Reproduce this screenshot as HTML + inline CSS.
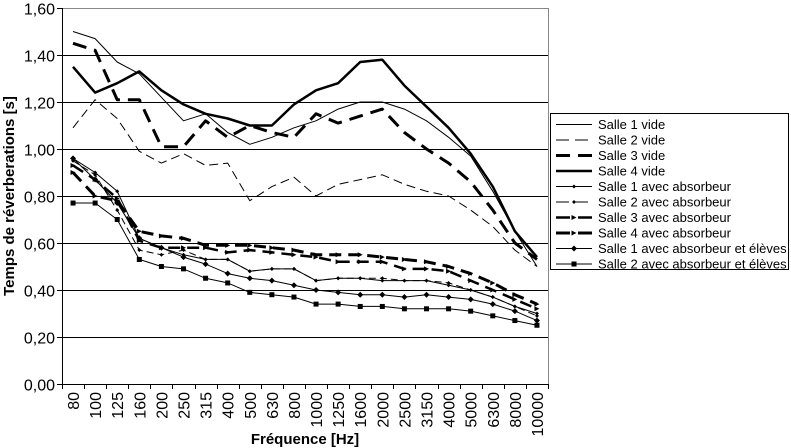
<!DOCTYPE html>
<html><head><meta charset="utf-8"><style>body{margin:0;background:#fff}svg{display:block}</style></head><body>
<svg id="s" width="791" height="448" xmlns="http://www.w3.org/2000/svg" font-family="Liberation Sans, sans-serif">
<rect width="791" height="448" fill="#fff"/>
<g id="grid" stroke="#000" stroke-width="1"></g>
<g id="ser" fill="none" stroke="#000" stroke-linejoin="round"></g>
<g id="lab" font-size="16" fill="#000"></g>
<text x="14" y="196" font-size="15" font-weight="bold" text-anchor="middle" transform="rotate(-90 14 196)">Temps de réverberations [s]</text>
<text x="305" y="444" font-size="15" font-weight="bold" text-anchor="middle">Fréquence [Hz]</text>
<rect x="550.5" y="113.5" width="238" height="156" fill="#fff" stroke="#000"/>
<g id="leg" font-size="13"></g>
</svg>
<script>
const NS="http://www.w3.org/2000/svg";
function el(p,t,a,txt){const e=document.createElementNS(NS,t);for(const k in a)e.setAttribute(k,a[k]);if(txt!=null)e.textContent=txt;document.getElementById(p).appendChild(e);return e;}
const X0=62,X1=548,Y0=384,K=235,n=22,dx=(X1-X0)/n;
const cats=["80","100","125","160","200","250","315","400","500","630","800","1000","1250","1600","2000","2500","3150","4000","5000","6300","8000","10000"];
const Y=v=>Y0-v*K, Xc=i=>X0+dx*(i+0.5);
for(let v=0;v<=1.6001;v+=0.2){const y=Math.round(Y(v))+0.5;
 if(v>0.01)el("grid","line",{x1:X0,x2:X1,y1:y,y2:y,stroke:v>1.59?"#888":"#000"});
 el("grid","line",{x1:X0-5,x2:X0,y1:y,y2:y});
 el("lab","text",{x:X0-7,y:y+6,"text-anchor":"end"},v.toFixed(2).replace(".",","));}
el("grid","line",{x1:X0+.5,x2:X0+.5,y1:8,y2:Y0});
el("grid","line",{x1:X0,x2:X1,y1:Y0+.5,y2:Y0+.5});
el("grid","line",{x1:X1+.5,x2:X1+.5,y1:8,y2:Y0,stroke:"#888"});
for(let i=0;i<=n;i++){const x=Math.round(X0+dx*i)+.5;el("grid","line",{x1:x,x2:x,y1:Y0,y2:Y0+5});}
cats.forEach((c,i)=>{const x=Xc(i)+6,y=Y0+8;el("lab","text",{x:x,y:y,"text-anchor":"end",transform:`rotate(-90 ${x} ${y})`},c);});
const S=[
["Salle 1 vide",1,"",null,[1.50,1.47,1.37,1.32,1.22,1.12,1.15,1.07,1.02,1.05,1.09,1.12,1.17,1.20,1.20,1.17,1.12,1.05,0.97,0.82,0.65,0.50]],
["Salle 2 vide",1,"9 5",null,[1.09,1.21,1.13,0.99,0.94,0.98,0.93,0.94,0.78,0.84,0.88,0.80,0.85,0.87,0.89,0.85,0.82,0.80,0.74,0.67,0.57,0.50]],
["Salle 3 vide",3,"14 8",null,[1.45,1.42,1.21,1.21,1.01,1.01,1.12,1.05,1.10,1.07,1.05,1.15,1.11,1.14,1.17,1.07,1.00,0.94,0.86,0.74,0.60,0.53]],
["Salle 4 vide",2.5,"",null,[1.35,1.24,1.28,1.33,1.25,1.19,1.15,1.13,1.10,1.10,1.19,1.25,1.28,1.37,1.38,1.27,1.18,1.09,0.98,0.84,0.65,0.54]],
["Salle 1 avec absorbeur",1,"","d",[0.96,0.90,0.82,0.62,0.58,0.55,0.53,0.53,0.48,0.49,0.49,0.44,0.45,0.45,0.44,0.44,0.44,0.42,0.40,0.37,0.33,0.30]],
["Salle 2 avec absorbeur",1,"7 4","d",[0.95,0.89,0.74,0.57,0.55,0.57,0.53,0.53,0.48,0.49,0.49,0.44,0.45,0.45,0.45,0.44,0.44,0.43,0.40,0.37,0.33,0.29]],
["Salle 3 avec absorbeur",2.5,"12 7","t",[0.93,0.87,0.79,0.61,0.58,0.58,0.58,0.56,0.57,0.56,0.55,0.54,0.52,0.52,0.52,0.49,0.49,0.48,0.44,0.40,0.36,0.32]],
["Salle 4 avec absorbeur",3,"12 7","t",[0.90,0.80,0.78,0.65,0.63,0.62,0.59,0.59,0.59,0.58,0.57,0.55,0.55,0.55,0.54,0.53,0.52,0.50,0.47,0.43,0.38,0.34]],
["Salle 1 avec absorbeur et élèves",1,"","D",[0.96,0.87,0.77,0.62,0.58,0.54,0.51,0.47,0.45,0.44,0.42,0.40,0.39,0.38,0.38,0.37,0.38,0.37,0.36,0.34,0.31,0.27]],
["Salle 2 avec absorbeur et élèves",1,"","s",[0.77,0.77,0.70,0.53,0.50,0.49,0.45,0.43,0.39,0.38,0.37,0.34,0.34,0.33,0.33,0.32,0.32,0.32,0.31,0.29,0.27,0.25]]];
function mk(g,m,x,y){if(m==="s")el(g,"rect",{x:x-2.5,y:y-2.5,width:5,height:5,fill:"#000",stroke:"none"});
 else if(m==="D")el(g,"path",{d:`M${x},${y-3}L${x+3},${y}L${x},${y+3}L${x-3},${y}Z`,fill:"#000",stroke:"none"});
 else if(m==="d")el(g,"path",{d:`M${x},${y-2}L${x+2},${y}L${x},${y+2}L${x-2},${y}Z`,fill:"#000",stroke:"none"});
 else if(m==="t")el(g,"path",{d:`M${x-2.5},${y-2.5}L${x+2.5},${y}L${x-2.5},${y+2.5}Z`,fill:"#000",stroke:"none"});}
S.forEach((s,k)=>{const [name,w,da,m,d]=s;
 el("ser","polyline",{points:d.map((v,i)=>Xc(i).toFixed(1)+","+Y(v).toFixed(1)).join(" "),"stroke-width":w,"stroke-dasharray":da});
 if(m)d.forEach((v,i)=>mk("ser",m,Xc(i),Y(v)));
 const ly=124.5+k*15.5;
 el("leg","line",{x1:556,x2:592,y1:ly,y2:ly,stroke:"#000","stroke-width":w,"stroke-dasharray":da?(w>2?"14 8":"13 6"):""});
 if(m)mk("leg",m,574,ly);
 el("leg","text",{x:598,y:ly+4.5},name);});
</script>
</body></html>
